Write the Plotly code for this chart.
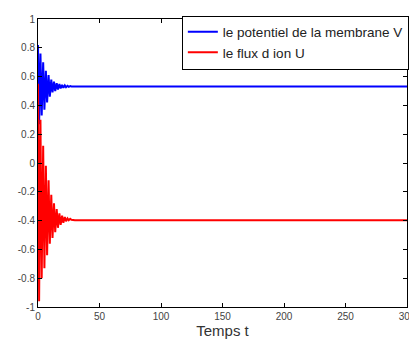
import plotly.graph_objects as go

# turning points (time, value)
t_pts = [0, 0.9, 2.0, 3.0, 4.2, 5.2, 6.4, 7.4, 8.6, 9.6, 10.8, 11.8, 13.0, 14.0,
         15.2, 16.2, 17.4, 18.4, 19.6, 20.6, 21.8, 22.8, 24.0, 25.0, 26.2, 27.2, 30, 300]
V_pts = [0.82, 0.27, 0.76, 0.33, 0.70, 0.37, 0.64, 0.42, 0.61, 0.46, 0.58, 0.49, 0.565, 0.50,
         0.555, 0.51, 0.548, 0.518, 0.543, 0.522, 0.539, 0.526, 0.536, 0.529, 0.534, 0.531, 0.532, 0.532]
U_pts = [0.55, -0.96, 0.30, -0.80, 0.12, -0.73, -0.02, -0.64, -0.12, -0.56, -0.22, -0.52, -0.28, -0.48,
         -0.32, -0.45, -0.35, -0.43, -0.365, -0.415, -0.375, -0.405, -0.385, -0.398, -0.388, -0.394, -0.398, -0.398]

x_ticks = [0, 50, 100, 150, 200, 250, 300]
y_ticks = [-1, -0.8, -0.6, -0.4, -0.2, 0, 0.2, 0.4, 0.6, 0.8, 1]
y_labels = ["-1", "-0.8", "-0.6", "-0.4", "-0.2", "0", "0.2", "0.4", "0.6", "0.8", "1"]

fig = go.Figure()
fig.add_trace(go.Scatter(x=t_pts, y=V_pts, mode="lines", name="le potentiel de la membrane V",
                         line=dict(color="#0000ff", width=2)))
fig.add_trace(go.Scatter(x=t_pts, y=U_pts, mode="lines", name="le flux d ion U",
                         line=dict(color="#ff0000", width=2)))

axis_common = dict(showline=True, linecolor="black", linewidth=1, mirror="ticks",
                   ticks="inside", ticklen=4, tickcolor="black", showgrid=False, zeroline=False,
                   tickfont=dict(family="Liberation Sans, Arial, sans-serif", size=10, color="#444"))

# the page body adds an 8px offset, so the figure is sized to fit inside the window
fig.update_layout(
    width=409, height=339,
    margin=dict(l=29.5, r=9.5, t=10.5, b=39.5, autoexpand=False),
    paper_bgcolor="white", plot_bgcolor="white",
    font=dict(family="Liberation Sans, Arial, sans-serif", color="black"),
    xaxis=dict(range=[0, 300], tickvals=x_ticks, ticktext=[str(v) for v in x_ticks],
               title=dict(text="Temps t", font=dict(size=15, color="#333"), standoff=2), **axis_common),
    yaxis=dict(range=[-1, 1], tickvals=y_ticks, ticktext=y_labels, **axis_common),
    legend=dict(x=1.005, xanchor="right", y=1.012, yanchor="top", bgcolor="white",
                bordercolor="black", borderwidth=1, font=dict(size=13.5, color="#222"),
                tracegroupgap=0, itemwidth=30),
    showlegend=True,
)

fig.write_html("out.html")
